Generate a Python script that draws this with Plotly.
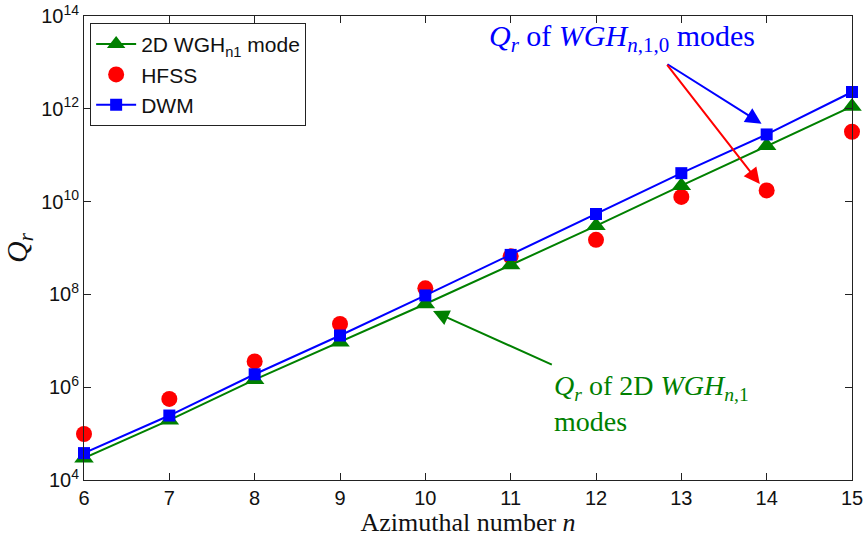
import plotly.graph_objects as go

# Azimuthal numbers
n_vals = [6, 7, 8, 9, 10, 11, 12, 13, 14, 15]

# Radiation Q of the 2D WGH_{n,1} mode
q_2d = [2.95e4, 1.95e5, 1.45e6, 9.3e6, 6.2e7, 4.3e8, 3.0e9, 2.2e10, 1.6e11, 1.12e12]
# HFSS simulation
q_hfss = [9.8e4, 5.6e5, 3.6e6, 2.3e7, 1.35e8, 6.6e8, 1.5e9, 1.26e10, 1.74e10, 3.2e11]
# DWM estimate
q_dwm = [3.8e4, 2.45e5, 1.9e6, 1.3e7, 9.5e7, 7.1e8, 5.4e9, 4.1e10, 2.8e11, 2.3e12]

y_exponents = [4, 6, 8, 10, 12, 14]
y_ticktext = [f"10<sup>{e}</sup>" for e in y_exponents]

GREEN = "#008000"
RED = "#FF0000"
BLUE = "#0000FF"
SERIF = "Liberation Serif"
SANS = "Liberation Sans"

fig = go.Figure()

fig.add_trace(go.Scatter(
    x=n_vals, y=q_hfss, mode="markers", name="HFSS", legendrank=2, cliponaxis=False,
    marker=dict(symbol="circle", size=16, color=RED),
))
fig.add_trace(go.Scatter(
    x=n_vals, y=q_2d, mode="lines+markers", name="2D WGH<sub>n1</sub> mode", legendrank=1,
    cliponaxis=False,
    line=dict(color=GREEN, width=2),
    marker=dict(symbol="triangle-up", size=17, color=GREEN),
))
fig.add_trace(go.Scatter(
    x=n_vals, y=q_dwm, mode="lines+markers", name="DWM", legendrank=3, cliponaxis=False,
    line=dict(color=BLUE, width=2),
    marker=dict(symbol="square", size=12, color=BLUE),
))

# Text labels
fig.add_annotation(
    x=12.30, y=13.52, xref="x", yref="y", showarrow=False,
    text="<i>Q</i><sub><i>r</i></sub> of <i>WGH</i><sub><i>n</i>,1,0</sub> modes",
    font=dict(family=SERIF, size=30, color=BLUE),
    xanchor="center", yanchor="middle",
)
fig.add_annotation(
    x=11.48, y=6.42, xref="x", yref="y", showarrow=False,
    text="<i>Q</i><sub><i>r</i></sub> of 2D <i>WGH</i><sub><i>n</i>,1</sub><br>modes",
    font=dict(family=SERIF, size=28, color=GREEN),
    xanchor="left", yanchor="top", align="left",
)

# Arrows (head at x/y, tail at ax/ay)
arrow_specs = [
    (13.94, 11.68, 12.82, 12.98, BLUE),
    (13.92, 10.38, 12.82, 12.98, RED),
    (10.09, 7.64, 11.50, 6.47, GREEN),
]
for hx, hy, tx, ty, col in arrow_specs:
    fig.add_annotation(
        x=hx, y=hy, ax=tx, ay=ty, xref="x", yref="y", axref="x", ayref="y",
        text="", showarrow=True, arrowhead=2, arrowsize=1.6, arrowwidth=2,
        arrowcolor=col,
    )

axis_common = dict(
    showline=True, linecolor="#222222", linewidth=1, mirror="ticks",
    ticks="inside", ticklen=7, tickwidth=1, tickcolor="#222222",
    showgrid=False, zeroline=False, automargin=False,
    tickfont=dict(family=SANS, size=20, color="#111111"),
)

fig.update_xaxes(
    range=[6, 15], tickvals=n_vals,
    title=dict(text="Azimuthal number <i>n</i>", font=dict(family=SERIF, size=26, color="#111111"), standoff=0),
    **axis_common,
)
fig.update_yaxes(
    type="log", range=[4, 14],
    tickvals=[10.0 ** e for e in y_exponents], ticktext=y_ticktext,
    title=dict(text="<i>Q</i><sub><i>r</i></sub>", font=dict(family=SERIF, size=30, color="#111111"), standoff=10),
    **axis_common,
)

fig.update_layout(
    width=868, height=537,
    margin=dict(l=84, r=16, t=16, b=57),
    paper_bgcolor="white", plot_bgcolor="white",
    showlegend=True,
    legend=dict(
        x=0.008, y=0.985, xanchor="left", yanchor="top",
        bgcolor="white", bordercolor="#222222", borderwidth=1,
        font=dict(family=SANS, size=21, color="#111111"),
        itemwidth=40, tracegroupgap=0,
    ),
)

fig.write_html("out.html")
